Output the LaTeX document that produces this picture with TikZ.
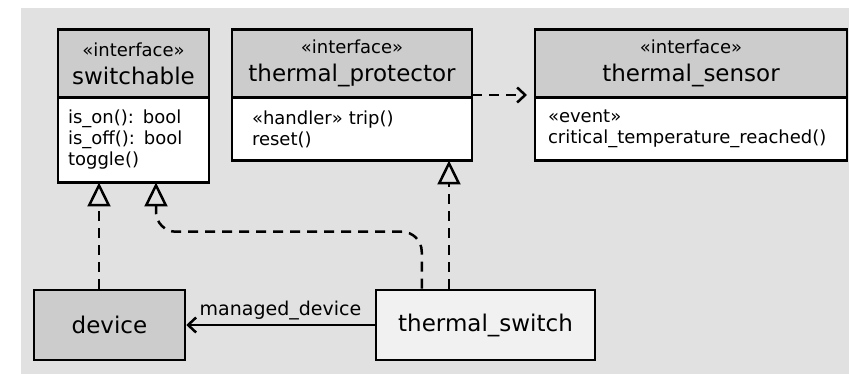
\documentclass[tikz,border=0pt]{standalone}
\usepackage{fontspec}
\setmainfont{DejaVu Sans}
\usetikzlibrary{arrows.meta, positioning, calc}

\definecolor{bggray}{HTML}{E1E1E1}
\definecolor{headgray}{HTML}{CCCCCC}
\definecolor{boxlight}{HTML}{F1F1F1}

\newcommand{\stereo}[1]{{\fontsize{18}{21}\selectfont «#1»}}

\begin{document}
\begin{tikzpicture}[x=1pt, y=1pt, node distance=2cm, on grid, auto, line width=2.5pt,
        iface/.style={draw, fill=headgray, minimum width=#1, minimum height=68pt,
            inner sep=0pt, outer sep=0pt, align=center, font=\fontsize{23}{28}\selectfont},
        ops/.style={draw, fill=white, anchor=north, align=left, inner ysep=0pt, outer sep=0pt,
            font=\fontsize{18}{21}\selectfont},
        cls/.style={draw, minimum width=#1, minimum height=70pt, inner sep=0pt,
            font=\fontsize{23}{28}\selectfont},
        realize/.style={dash pattern=on 10pt off 7pt,
            -{Triangle[open, width=23pt, length=24pt]}},
        depend/.style={dash pattern=on 10pt off 7pt,
            -{Straight Barb[length=8pt, width=15pt]}, shorten >=8pt},
        assoc/.style={-{Straight Barb[length=8pt, width=15pt]}}]
        \useasboundingbox (0,0) rectangle (849,374);
        \fill[bggray] (21,0) rectangle (849,366);

        % interfaces
        \node[iface=151pt] (sw)                          at (133.5,310.5) {\stereo{interface}\\switchable};
        \node[iface=240pt] (t_prot) [right=218.5pt of sw]     {\stereo{interface}\\thermal\_protector};
        \node[iface=312pt] (t_sens) [right=339pt of t_prot]   {\stereo{interface}\\thermal\_sensor};

        \node[ops, text width=131pt, inner xsep=10pt, minimum height=85pt] (sw_ops) at (sw.south)
            {is\_on(): bool\\is\_off(): bool\\toggle()};
        \node[ops, text width=200pt, inner xsep=20pt, minimum height=63pt] (t_prot_ops) at (t_prot.south)
            {«handler» trip()\\reset()};
        \node[ops, text width=286pt, inner xsep=13pt, minimum height=63pt] (t_sens_ops) at (t_sens.south)
            {«event»\\critical\_temperature\_reached()};

        % classes
        \node[cls=151pt, fill=headgray] (device)   [below left=261.5pt and 24pt of sw] {device};
        \node[cls=219pt, fill=boxlight] (t_switch) [right=376pt of device]            {thermal\_switch};

        \coordinate (sw_in1)  at ([xshift=-34.5pt]sw_ops.south);
        \coordinate (sw_in2)  at ([xshift=22.5pt]sw_ops.south);
        \coordinate (prot_in) at ([xshift=-23pt]t_prot_ops.south east);
        \coordinate (sw_out)  at ([xshift=47pt]t_switch.north west);
        \coordinate (prot_mid) at ($(t_prot.north east)!0.5!(t_prot_ops.south east)$);
        \coordinate (sens_mid) at ($(t_sens.north west)!0.5!(t_sens_ops.south west)$);

        \path[realize] (device.north -| sw_in1) edge (sw_in1)
        (t_switch.north -| prot_in) edge (prot_in);
        \draw[realize, rounded corners=20pt] (sw_out) -- ++(0,57) -| (sw_in2);
        \path[depend] (prot_mid) edge (sens_mid);
        \path[assoc] (t_switch) edge node[swap, font=\fontsize{19}{22}\selectfont] {managed\_device} (device);
    \end{tikzpicture}
\end{document}
